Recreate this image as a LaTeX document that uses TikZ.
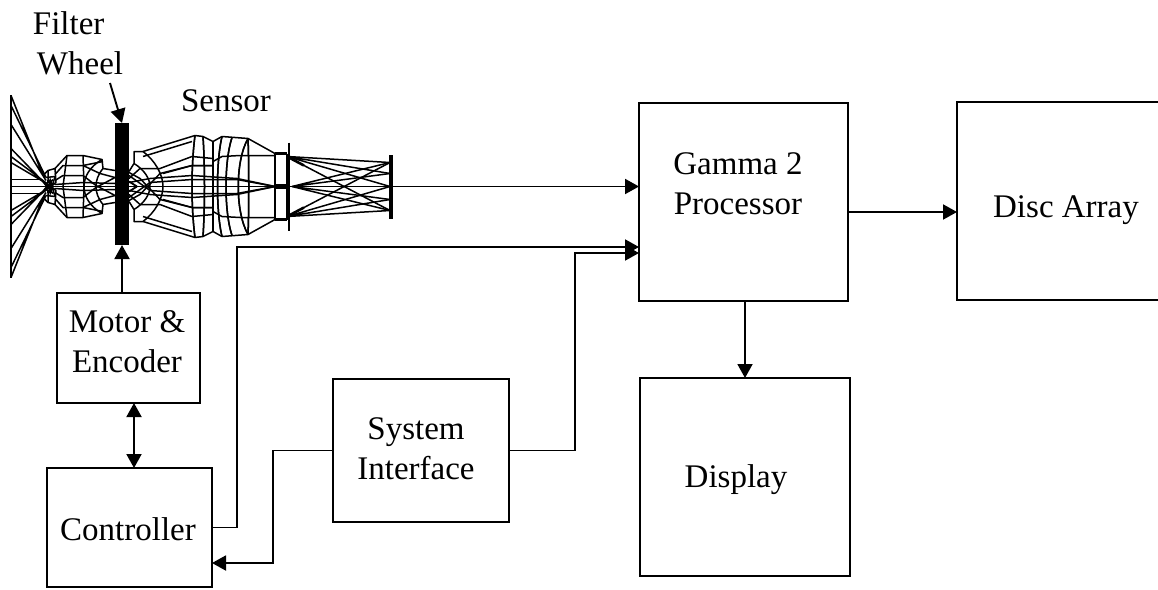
\documentclass[tikz,border=0pt]{standalone}
\usepackage{fontspec}
\setmainfont{Liberation Serif}
\usetikzlibrary{arrows.meta}
\tikzset{
  boxnode/.style={draw=black,line width=1.9pt,fill=white,inner sep=0pt,outer sep=0pt},
  txt/.style={inner sep=0pt,outer sep=0pt,font=\fontsize{33}{40}\selectfont,align=center,anchor=base},
  conn/.style={line width=1.9pt,draw=black},
  arr/.style={conn,-{Triangle[length=14pt,width=15pt]}},
  dbl/.style={conn,{Triangle[length=14pt,width=15pt]}-{Triangle[length=14pt,width=15pt]}},
  wire/.style={line width=1.5pt,draw=black,line join=round},
  heavy/.style={line width=2.6pt,draw=black,line join=round}
}
\newcommand{\lenshalf}{%
  % object fan
  \draw[wire] (11,91)--(43,11) (11,81)--(46,9) (11,62)--(46,6);
  \draw[wire] (11,38)--(43,5) (11,24)--(50,1) (11,30)--(47,3);
  \draw[wire] (11,7)--(40,7);
  % front small group
  \draw[wire] (43,11)--(48,16)--(55,18)--(56,4)--(50,0);
  \draw[wire] (46,9)--(55,10)--(50,-8) (48,16)--(48,4) (41,7)--(53,-7);
  \draw[wire] (43,5)--(55,-3);
  \draw[heavy] (45,3)--(53,-3) (47,5)--(52,5);
  % first doublet
  \draw[wire] (55,18)--(67,31)--(83,31)--(102,27)--(103,18)--(115,16);
  \draw[wire] (67,31)--(63,0) (83,31)--(84,0);
  \draw[wire] (55,12)--(63,21)--(83,21)--(100,13)--(115,9);
  \draw[wire] (55,6)--(63,11)--(83,11)--(96,1)--(115,-9);
  \draw[wire] (55,2)--(83,4)--(115,3);
  \draw[wire] (102,27) .. controls (90,20) and (84,10) .. (84,0);
  \draw[wire] (103,18) .. controls (98,12) and (96,6) .. (96,0);
  \draw[wire] (83,21)--(103,25);
  % second group right of the wheel
  \draw[wire] (129,15)--(134,23)--(134,35)--(143,35)--(195,51);
  \draw[wire] (134,23) .. controls (144,17) and (150,8) .. (150,0);
  \draw[wire] (143,35) .. controls (155,26) and (163,12) .. (163,0);
  \draw[wire] (143,30)--(192,45);
  \draw[wire] (129,8)--(140,18)--(160,18)--(192,30)--(213,28);
  \draw[wire] (129,14)--(140,8)--(160,-13)--(192,-21)--(213,-21);
  \draw[wire] (129,5)--(137,0)--(129,-5);
  \draw[wire] (129,4)--(150,8)--(192,11)--(237,8)--(275,0);
  \draw[wire] (129,11)--(150,-4)--(192,-7)--(237,-7)--(275,0);
  % large lens bank
  \draw[wire] (195,51)--(203,50)--(213,45)--(222,50)--(248,48)--(275,33);
  \draw[wire] (195,51) .. controls (191,20) and (191,-20) .. (195,-51);
  \draw[wire] (203,50) .. controls (205,20) and (205,-20) .. (203,-50);
  \draw[wire] (213,45)--(213,-45);
  \draw[wire] (222,50) .. controls (216,25) and (216,-25) .. (222,-50);
  \draw[wire] (232,49) .. controls (224,25) and (224,-25) .. (232,-49);
  \draw[wire] (248,48) .. controls (235,25) and (235,-25) .. (248,-48);
  \draw[wire] (248,48) .. controls (249,25) and (249,-25) .. (248,-48);
  \draw[wire] (213,25)--(222,30)--(240,31)--(275,31);
  \draw[wire] (163,13)--(192,21)--(213,21);
  % stop and relay
  \draw[wire] (275,33)--(275,-33) (287,33)--(287,-33);
  \draw[line width=3.4pt] (275,33)--(287,33);
  \draw[line width=2.6pt] (275,1)--(287,1);
  \draw[wire] (289,44)--(289,0);
  % image-side rays
  \draw[wire] (287,30)--(390,24);
  \draw[heavy] (287,30)--(304,21);
  \draw[wire] (304,21)--(390,-24);
  \draw[wire] (287,30)--(390,13) (287,30)--(390,0);
  \draw[wire] (292,0)--(390,24) (292,0)--(390,13);
}
\begin{document}
\begin{tikzpicture}[x=1pt,y=-1pt]
\useasboundingbox (0,0) rectangle (1158,589);
\fill[white] (0,0) rectangle (1158,589);
% lens wireframe
\begin{scope}[shift={(0,186.5)},yscale=-1] \lenshalf \end{scope}
\begin{scope}[shift={(0,186.5)}] \lenshalf \end{scope}
\draw[wire] (11,95)--(11,278);
\draw[wire] (11,186.5)--(392,186.5);
% blocks
\node[boxnode,minimum width=143pt,minimum height=110pt] (motor) at (128.5,348) {};
\node[boxnode,minimum width=165pt,minimum height=119pt] (ctrl) at (129.5,527.5) {};
\node[boxnode,minimum width=176pt,minimum height=143pt] (iface) at (421,450.5) {};
\node[boxnode,minimum width=209pt,minimum height=198pt] (gamma) at (743.5,202) {};
\node[boxnode,minimum width=210pt,minimum height=198pt] (display) at (745,477) {};
\node[boxnode,minimum width=213pt,minimum height=198pt] (disc) at (1063.5,201) {};
\node[fill=black,inner sep=0pt,outer sep=0pt,minimum width=14pt,minimum height=122pt] (wheel) at (122,184) {};
\node[fill=black,inner sep=0pt,outer sep=0pt,minimum width=3.5pt,minimum height=64pt] (sensor) at (391,186.5) {};
% labels
\node[txt,align=left] (lwheel) at (78,74) {Filter\\[0pt]\hspace{4pt}Wheel};
\node[txt] (lsensor) at (226,111) {Sensor};
\node[txt] (lmotor) at (127,372) {Motor \&\\Encoder};
\node[txt] (lctrl) at (128,540) {Controller};
\node[txt] (liface) at (416,479) {System\\Interface};
\node[txt] (lgamma) at (738,214) {Gamma 2\\Processor};
\node[txt] (ldisplay) at (736,487) {Display};
\node[txt] (ldisc) at (1066,217) {Disc Array};
% connectors
\coordinate (ftail) at (110,83);
\draw[arr] (ftail) -- (wheel.north);
\draw[arr] ([xshift=-6.5pt]motor.north) -- (wheel.south);
\draw[dbl] ([xshift=5.5pt]motor.south) -- ([xshift=4.5pt]ctrl.north);
\draw[arr] (sensor.east) -- ([yshift=15.5pt]gamma.west);
\draw[arr] (ctrl.east) -- ++(25,0) |- ([yshift=-45pt]gamma.west);
\draw[arr] (iface.east) -- ++(66,0) |- ([yshift=-51pt]gamma.west);
\draw[arr] (iface.west) -- ++(-60,0) |- ([yshift=-35.5pt]ctrl.east);
\draw[arr] ([xshift=1.5pt]gamma.south) -- (display.north);
\draw[arr] ([yshift=-10pt]gamma.east) -- ([yshift=-11pt]disc.west);
\end{tikzpicture}
\end{document}
